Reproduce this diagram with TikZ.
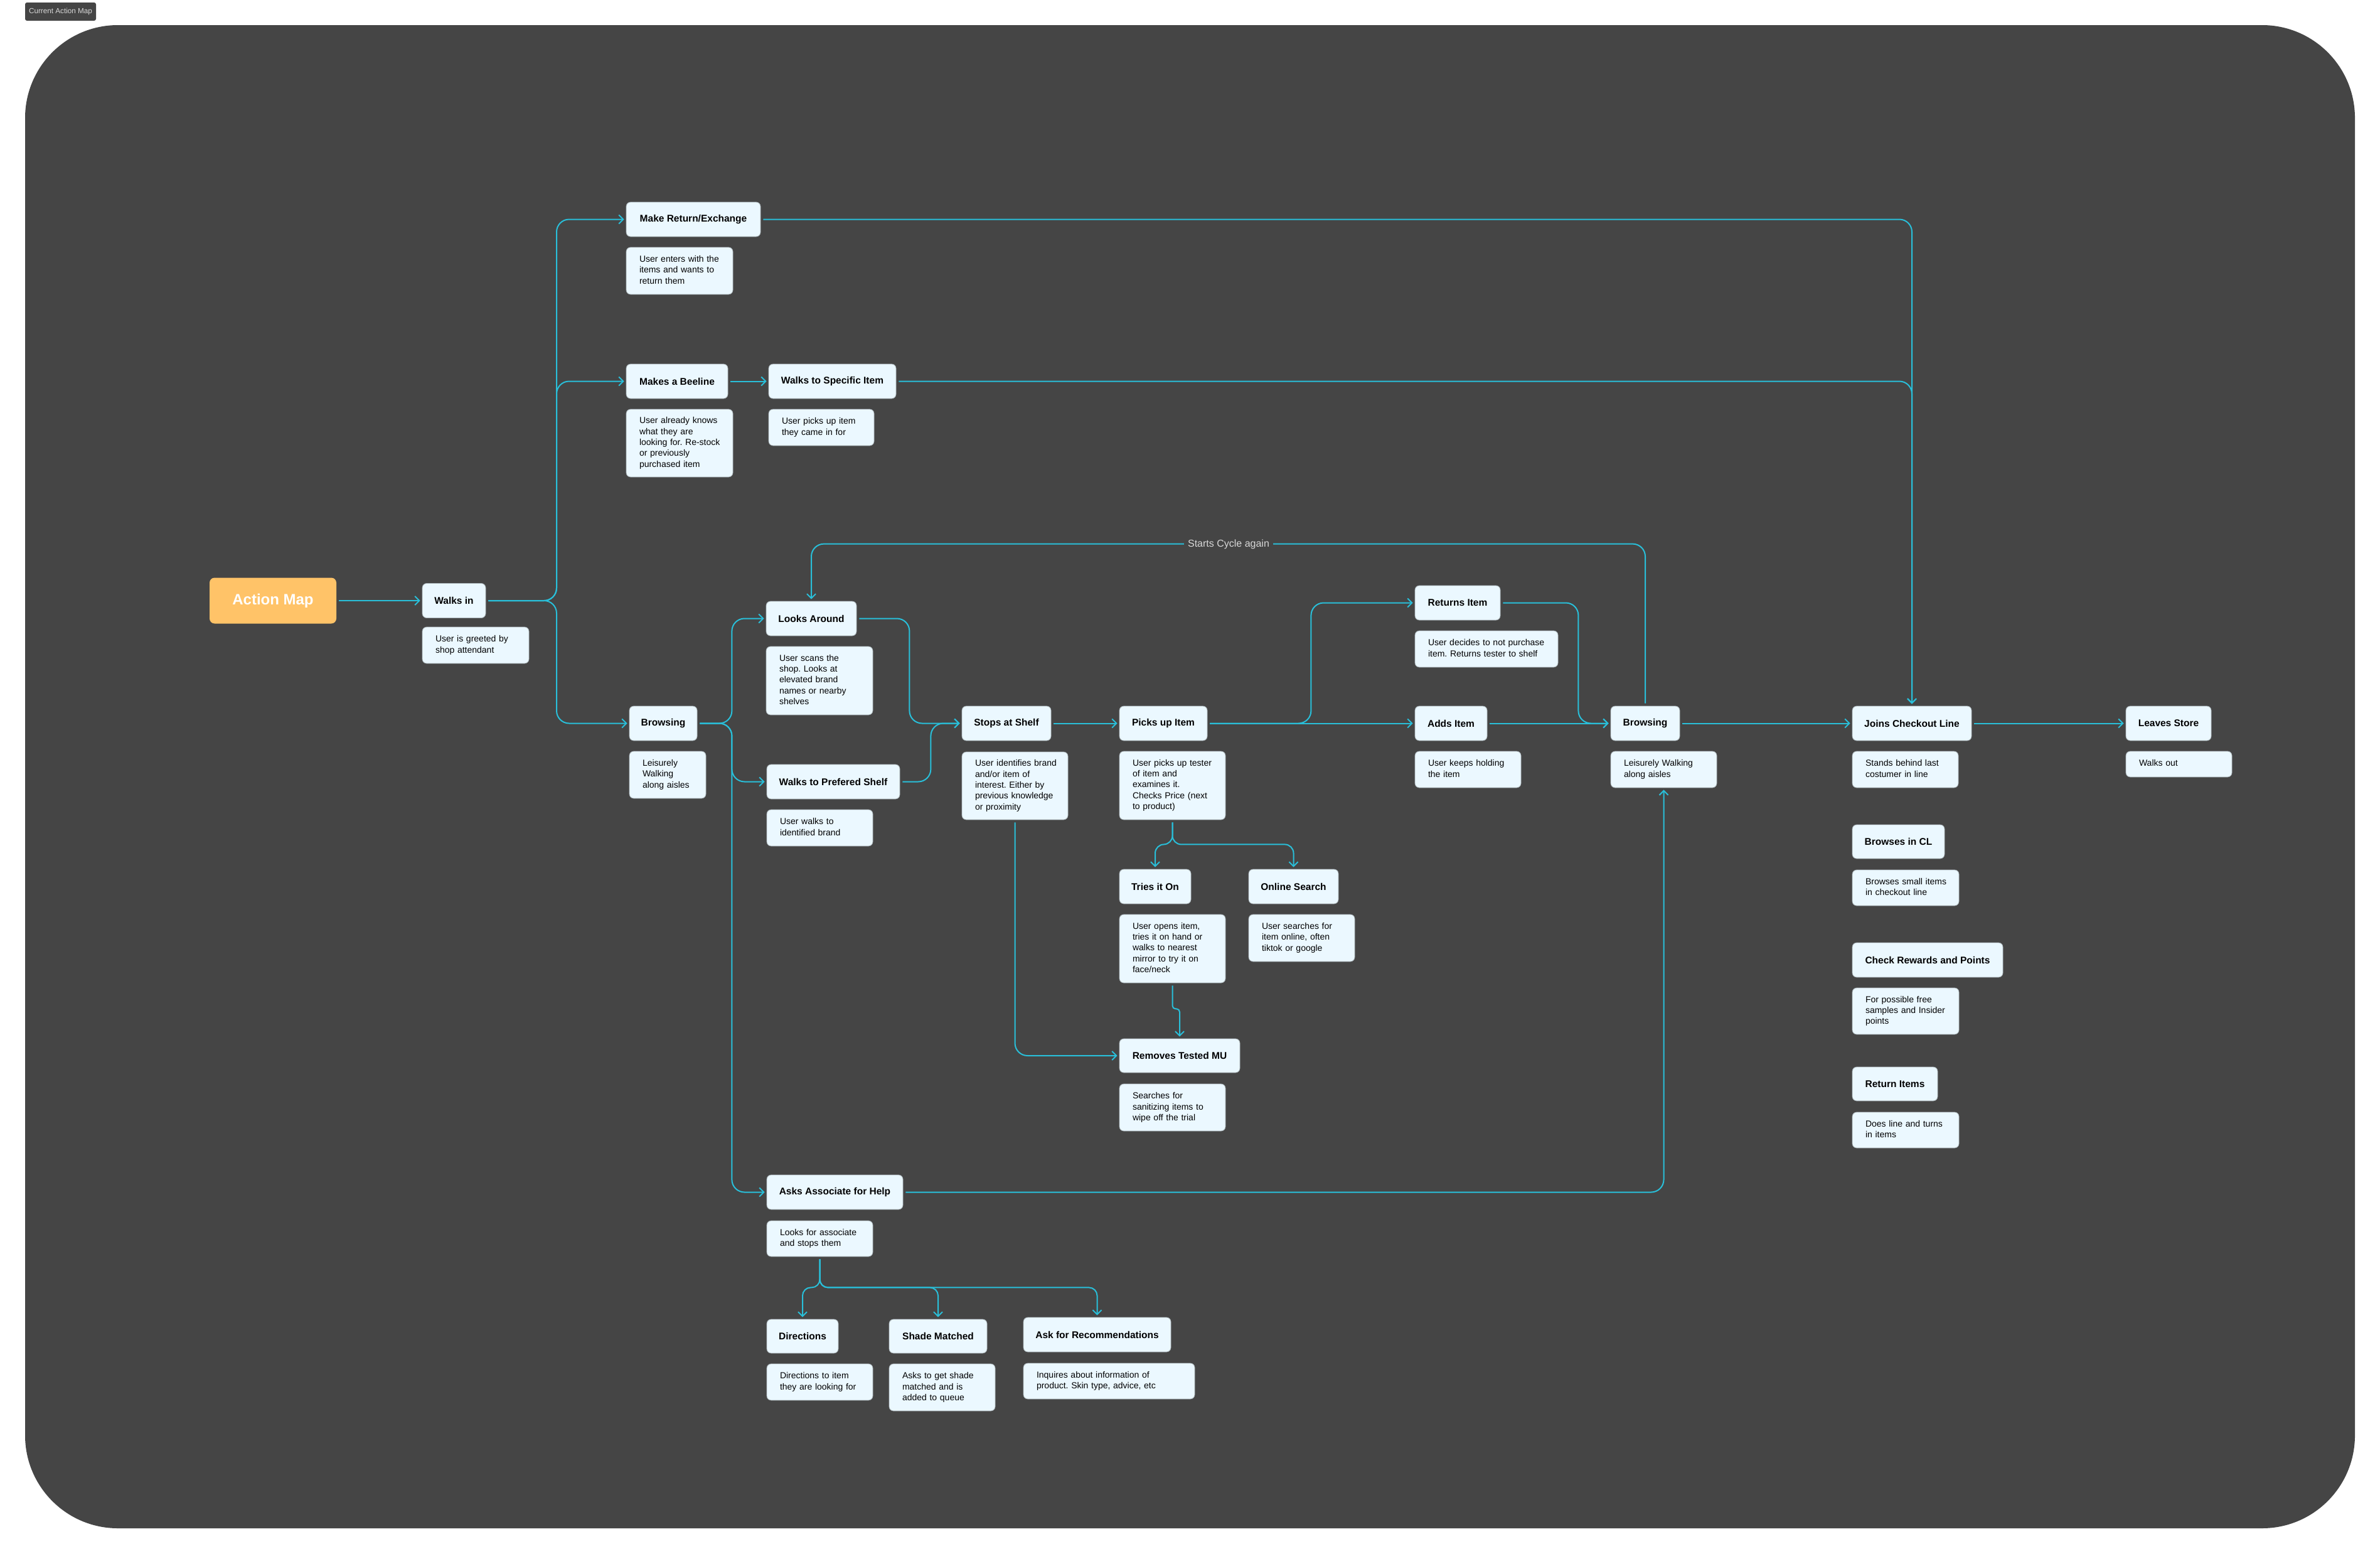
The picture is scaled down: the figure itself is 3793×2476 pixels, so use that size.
\documentclass[tikz,border=0pt]{standalone}
\usepackage{fontspec}
\setmainfont{Liberation Sans}
\usetikzlibrary{arrows.meta}
\definecolor{panel}{HTML}{454545}
\definecolor{boxfill}{HTML}{EBF8FF}
\definecolor{boxedge}{HTML}{A9B3B8}
\definecolor{conn}{HTML}{29BFD9}
\definecolor{amapfill}{HTML}{FFC368}
\definecolor{labgray}{HTML}{D8D8D8}
\newcommand{\dlines}[1]{\begin{tabular}{@{}l@{}}#1\end{tabular}}
\frenchspacing
\begin{document}
\begin{tikzpicture}[x=1pt,y=-1pt,
  title/.style={draw=boxedge, line width=0.8pt, fill=boxfill, rounded corners=7pt,
    minimum height=55pt, inner xsep=0pt, inner ysep=0pt,
    font=\fontsize{15.5}{18}\selectfont\bfseries, text=black},
  desc/.style={draw=boxedge, line width=0.8pt, fill=boxfill, rounded corners=7pt,
    inner xsep=21pt, inner ysep=0pt, align=left,
    font=\fontsize{14}{17.4}\selectfont, text=black},
  amapstyle/.style={fill=amapfill, rounded corners=8pt, minimum width=202pt,
    minimum height=73pt, inner sep=0pt, font=\fontsize{24}{28}\selectfont\bfseries, text=white},
  tagstyle/.style={fill=panel, rounded corners=3pt, minimum width=113pt, minimum height=29pt,
    inner sep=0pt, font=\fontsize{11.7}{14}\selectfont, text=labgray},
  cyclab/.style={fill=panel, inner xsep=6pt, inner ysep=3pt,
    font=\fontsize{16}{19}\selectfont, text=labgray},
  link/.style={draw=conn, line width=2pt, rounded corners=20pt,
    shorten <=4pt, shorten >=3pt, -{Straight Barb[length=7pt,width=14pt]}},
]
% canvas
\useasboundingbox (0,0) rectangle (3793,2476);
\fill[white] (0,0) rectangle (3793,2476);
\fill[panel, rounded corners=148pt] (40,40) rectangle (3753,2435);
\node[tagstyle] (tag) at (96.5,18.5) {Current Action Map};

% nodes
\node[amapstyle] (amap) at (435,957) {Action Map};
\node[title, minimum width=101pt] (walksin) at (723.5,957) {Walks in};
\node[desc, text width=128pt, minimum height=58pt] (walksind) at (758,1028) {\dlines{User is greeted by\\shop attendant}};

\node[title, minimum width=214pt] (makeret) at (1105,349.5) {Make Return/Exchange};
\node[desc, text width=128pt, minimum height=75pt] (makeretd) at (1083,431.5) {\dlines{User enters with the\\items and wants to\\return them}};
\node[title, minimum width=162pt] (beeline) at (1079,607.5) {Makes a Beeline};
\node[desc, text width=128pt, minimum height=108pt] (beelined) at (1083,706) {\dlines{User already knows\\what they are\\looking for. Re-stock\\or previously\\purchased item}};
\node[title, minimum width=203pt] (walksspec) at (1326.5,607.5) {Walks to Specific Item};
\node[desc, text width=126pt, minimum height=58pt] (walksspecd) at (1309,681) {\dlines{User picks up item\\they came in for}};

\node[title, minimum width=108pt] (browsing) at (1057,1152.5) {Browsing};
\node[desc, text width=80pt, minimum height=75pt] (browsingd) at (1064,1234.5) {\dlines{Leisurely\\Walking\\along aisles}};
\node[title, minimum width=144pt] (looks) at (1293,985.5) {Looks Around};
\node[desc, text width=128pt, minimum height=109pt] (looksd) at (1306,1084.5) {\dlines{User scans the\\shop. Looks at\\elevated brand\\names or nearby\\shelves}};
\node[title, minimum width=212pt] (walkspref) at (1328,1245.5) {Walks to Prefered Shelf};
\node[desc, text width=127pt, minimum height=58pt] (walksprefd) at (1306.5,1319) {\dlines{User walks to\\identified brand}};

\node[title, minimum width=142pt] (stops) at (1604,1152.5) {Stops at Shelf};
\node[desc, text width=127pt, minimum height=108pt] (stopsd) at (1617.5,1252) {\dlines{User identifies brand\\and/or item of\\interest. Either by\\previous knowledge\\or proximity}};
\node[title, minimum width=140pt] (picks) at (1854,1152.5) {Picks up Item};
\node[desc, text width=127pt, minimum height=109pt] (picksd) at (1868.5,1251.5) {\dlines{User picks up tester\\of item and\\examines it.\\Checks Price (next\\to product)}};

\node[title, minimum width=114pt] (tries) at (1841,1412.5) {Tries it On};
\node[desc, text width=127pt, minimum height=109pt] (triesd) at (1868.5,1511.5) {\dlines{User opens item,\\tries it on hand or\\walks to nearest\\mirror to try it on\\face/neck}};
\node[title, minimum width=143pt] (online) at (2061.5,1412.5) {Online Search};
\node[desc, text width=127pt, minimum height=75pt] (onlined) at (2074.5,1494.5) {\dlines{User searches for\\item online, often\\tiktok or google}};
\node[title, minimum width=192pt, minimum height=54pt] (removes) at (1880,1682) {Removes Tested MU};
\node[desc, text width=127pt, minimum height=75pt] (removesd) at (1868.5,1764.5) {\dlines{Searches for\\sanitizing items to\\wipe off the trial}};

\node[title, minimum width=136pt] (returns) at (2323,960.5) {Returns Item};
\node[desc, text width=186pt, minimum height=58pt] (returnsd) at (2369,1034) {\dlines{User decides to not purchase\\item. Returns tester to shelf}};
\node[title, minimum width=115pt] (adds) at (2312.5,1152.5) {Adds Item};
\node[desc, text width=127pt, minimum height=58pt] (addsd) at (2339.5,1226) {\dlines{User keeps holding\\the item}};
\node[title, minimum width=110pt] (browsing2) at (2622,1152.5) {Browsing};
\node[desc, text width=127pt, minimum height=58pt] (browsing2d) at (2651.5,1226) {\dlines{Leisurely Walking\\along aisles}};

\node[title, minimum width=190pt] (joins) at (3047,1152.5) {Joins Checkout Line};
\node[desc, text width=127pt, minimum height=58pt] (joinsd) at (3036.5,1226) {\dlines{Stands behind last\\costumer in line}};
\node[title, minimum width=136pt] (leaves) at (3456,1152.5) {Leaves Store};
\node[desc, text width=127pt, minimum height=41pt] (leavesd) at (3472.5,1217.5) {\dlines{Walks out}};
\node[title, minimum width=147pt, minimum height=54pt] (browsescl) at (3025.5,1341) {Browses in CL};
\node[desc, text width=128pt, minimum height=57pt] (browsescld) at (3037,1414.5) {\dlines{Browses small items\\in checkout line}};
\node[title, minimum width=240pt] (rewards) at (3072,1529.5) {Check Rewards and Points};
\node[desc, text width=128pt, minimum height=74pt] (rewardsd) at (3037,1611) {\dlines{For possible free\\samples and Insider\\points}};
\node[title, minimum width=136pt, minimum height=54pt] (returnitems) at (3020,1727) {Return Items};
\node[desc, text width=128pt, minimum height=57pt] (returnitemsd) at (3037,1800.5) {\dlines{Does line and turns\\in items}};

\node[title, minimum width=217pt] (asks) at (1330.5,1899.5) {Asks Associate for Help};
\node[desc, text width=127pt, minimum height=57pt] (asksd) at (1306.5,1973.5) {\dlines{Looks for associate\\and stops them}};
\node[title, minimum width=114pt, minimum height=54pt] (directions) at (1279,2129) {Directions};
\node[desc, text width=127pt, minimum height=58pt] (directionsd) at (1306.5,2202) {\dlines{Directions to item\\they are looking for}};
\node[title, minimum width=156pt, minimum height=54pt] (shade) at (1495,2129) {Shade Matched};
\node[desc, text width=127pt, minimum height=75pt] (shaded) at (1501.5,2210.5) {\dlines{Asks to get shade\\matched and is\\added to queue}};
\node[title, minimum width=235pt] (askrec) at (1748.5,2126.5) {Ask for Recommendations};
\node[desc, text width=231pt, minimum height=57pt] (askrecd) at (1767.5,2200.5) {\dlines{Inquires about information of\\product. Skin type, advice, etc}};

% connectors
\draw[link] (amap.east) -- (walksin.west);
\draw[link] (walksin.east) -- (887,957) |- (makeret.west);
\draw[link] (walksin.east) -- (887,957) |- (beeline.west);
\draw[link] (walksin.east) -- (887,957) |- (browsing.west);
\draw[link] (beeline.east) -- (walksspec.west);
\draw[link] (makeret.east) -| (joins.north);
\draw[link] (walksspec.east) -| (joins.north);
\draw[link] (browsing.east) -- ++(55,0) |- (looks.west);
\draw[link] (browsing.east) -- ++(55,0) |- (walkspref.west);
\draw[link] (browsing.east) -- ++(55,0) |- (asks.west);
\draw[link] (looks.east) -- ++(84,0) |- (stops.west);
\draw[link] (walkspref.east) -- ++(49,0) |- (stops.west);
\draw[link] (stops.east) -- (picks.west);
\draw[link] (picks.east) -- (adds.west);
\draw[link] (picks.east) -- ++(165,0) |- (returns.west);
\draw[link] (adds.east) -- (browsing2.west);
\draw[link] (returns.east) -- ++(124,0) |- (browsing2.west);
\draw[link] (browsing2.east) -- (joins.west);
\draw[link] (joins.east) -- (leaves.west);
\draw[link] (browsing2.north) -- ++(0,-258) -| (looks.north);
\node[cyclab] (cyc) at (1958,867) {Starts Cycle again};
\draw[link, rounded corners=14pt] (picksd.south) -- ++(0,39) -| (tries.north);
\draw[link, rounded corners=14pt] (picksd.south) -- ++(0,39) -| (online.north);
\draw[link, rounded corners=5pt] (triesd.south) -- ++(0,41) -| (removes.north);
\draw[link] (stopsd.south) |- (removes.west);
\draw[link] (asks.east) -| (browsing2d.south);
\draw[link, rounded corners=13pt] (asksd.south) -- ++(0,49) -| (directions.north);
\draw[link, rounded corners=13pt] (asksd.south) -- ++(0,49) -| (shade.north);
\draw[link, rounded corners=13pt] (asksd.south) -- ++(0,49) -| (askrec.north);
\end{tikzpicture}
\end{document}
